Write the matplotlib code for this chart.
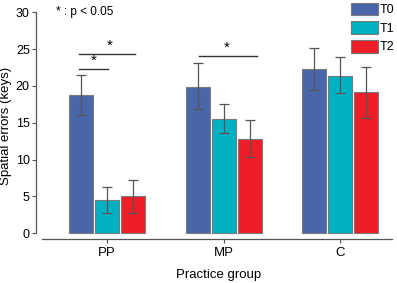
import matplotlib
matplotlib.use("Agg")
import matplotlib.pyplot as plt
from matplotlib.patches import Rectangle
import numpy as np

plt.rcParams['font.family'] = ['Liberation Sans', 'DejaVu Sans']

groups = ["PP", "MP", "C"]
series = ["T0", "T1", "T2"]
means = {
    "T0": [18.8, 19.9, 22.3],
    "T1": [4.5, 15.5, 21.4],
    "T2": [5.0, 12.8, 19.2],
}
err_hi = {
    "T0": [21.5, 23.05, 25.1],
    "T1": [6.3, 17.5, 23.9],
    "T2": [7.2, 15.3, 22.6],
}
err_lo = {
    "T0": [16.1, 16.8, 19.5],
    "T1": [2.8, 13.6, 19.0],
    "T2": [2.8, 10.4, 15.7],
}
colors = {"T0": "#4a66ab", "T1": "#00b0c3", "T2": "#ee1d27"}
yticks = [0, 5, 10, 15, 20, 25, 30]

fig = plt.figure(figsize=(3.97, 2.83), dpi=100)
ax = fig.add_axes([36/397, 1-239/283, (392-36)/397, (239-12.3)/283])

x = np.arange(len(groups))
pitch = 0.223
width = 0.205
for i, s in enumerate(series):
    xs = x + (i-1)*pitch
    m = np.array(means[s])
    ax.bar(xs, m, width=width, color=colors[s], edgecolor="#7a7a7a", linewidth=0.8, zorder=2)
    lo = m - np.array(err_lo[s])
    hi = np.array(err_hi[s]) - m
    ax.errorbar(xs, m, yerr=[lo, hi], fmt="none", ecolor="#555555", elinewidth=0.9,
                capsize=3.5, capthick=0.9, zorder=3)

# significance markers
def sig(x1, x2, y, tx):
    ax.plot([x1, x2], [y, y], color="#333333", lw=1.0, clip_on=False)
    ax.text(tx, y+0.15, "*", ha="center", va="bottom", fontsize=11)

sig(-0.24, 0.01, 22.3, -0.11)
sig(-0.24, 0.24, 24.4, 0.02)
sig(1-0.215, 1+0.285, 24.1, 1.03)

ax.text(-0.44, 30, "* : p < 0.05", ha="left", va="center", fontsize=8.5)

ax.set_xlim(-0.608, 2.442)
ax.set_ylim(-0.8, 30)
ax.set_xticks(x)
ax.set_xticklabels(groups, fontsize=9.5)
ax.set_yticks(yticks)
ax.set_yticklabels([str(t) for t in yticks], fontsize=9)
for sp in ["top", "right"]:
    ax.spines[sp].set_visible(False)
ax.spines["left"].set_bounds(0, 30)
ax.spines["bottom"].set_bounds(-0.557, 2.442)
for sp in ["left", "bottom"]:
    ax.spines[sp].set_color("#555555")
    ax.spines[sp].set_linewidth(0.9)
ax.tick_params(axis="y", direction="out", length=3, width=0.8, color="#555555", pad=1.5)
ax.tick_params(axis="x", direction="out", length=3, width=0.8, color="#555555", pad=3)
ax.set_ylabel("Spatial errors (keys)", fontsize=9.5, labelpad=3)
ax.set_xlabel("Practice group", fontsize=9.5)
ax.xaxis.set_label_coords((219-36)/356, -0.133)

# legend
handles = [Rectangle((0, 0), 1, 1, facecolor=colors[s], edgecolor="#7a7a7a", linewidth=0.8)
           for s in series]
fig.legend(handles, series, loc="upper right", bbox_to_anchor=(1.0, 1.0),
           frameon=False, fontsize=9, handlelength=2.2, handleheight=1.2,
           handletextpad=0.15, labelspacing=0.4, borderpad=0.2, borderaxespad=0.0)

fig.savefig("out.png", dpi=100)
